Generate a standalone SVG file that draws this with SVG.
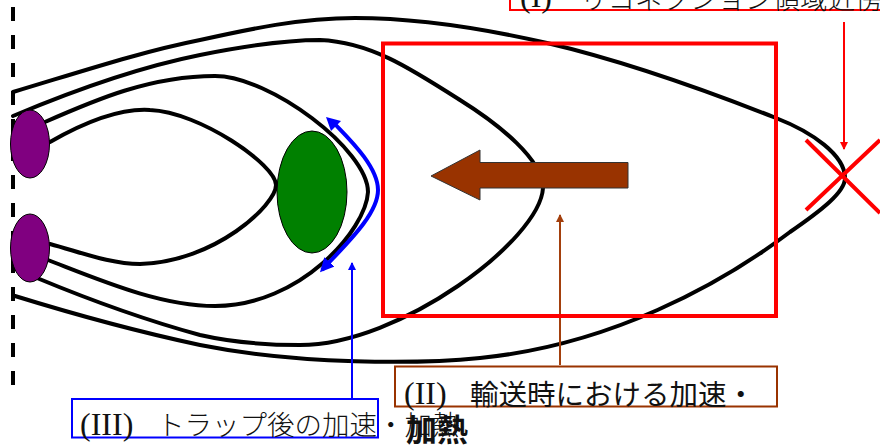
<svg xmlns="http://www.w3.org/2000/svg" width="880" height="445" viewBox="0 0 880 445">
<style>
.f{fill:none;stroke:#000;stroke-width:4;stroke-linecap:round}
.l{font-family:"Liberation Serif",serif;font-size:32px;fill:#111}
.j{font-family:"Noto Sans CJK JP",sans-serif;font-size:27.5px;font-weight:300;fill:#111}
</style>
<defs>
<marker id="mr" markerWidth="8" markerHeight="8" refX="7" refY="4" orient="auto" markerUnits="userSpaceOnUse" viewBox="0 0 8 8"><path d="M0 0L8 4L0 8z" fill="#f00"/></marker>
<marker id="mbr" markerWidth="8" markerHeight="8" refX="7" refY="4" orient="auto" markerUnits="userSpaceOnUse" viewBox="0 0 8 8"><path d="M0 0L8 4L0 8z" fill="#a33f0c"/></marker>
<marker id="mbl" markerWidth="8" markerHeight="8" refX="7" refY="4" orient="auto" markerUnits="userSpaceOnUse" viewBox="0 0 8 8"><path d="M0 0L8 4L0 8z" fill="#00f"/></marker>
<marker id="mb2" markerWidth="14" markerHeight="14" refX="11" refY="7" orient="auto" markerUnits="userSpaceOnUse" viewBox="0 0 14 14"><path d="M0 0L14 7L0 14z" fill="#00f"/></marker>
</defs>
<g id="field-lines">
<path class="f" d="M13 92C80 72 140 52 200 40C250 29 300 18 355 18C420 18 490 30 547 43C620 60 700 88 776 118C812 132 845 155 845 178C845 192 822 210 790 232C720 285 610 345 480 358C420 364 300 365 200 345C130 330 70 313 15 296"/>
<path class="f" d="M13 116C70 92 135 68 200 55C250 45 285 40 320 40C370 42 410 68 460 100C500 125 543 160 543 188C540 240 400 345 300 345C265 345 235 343 200 335C145 320 90 300 37 278"/>
<path class="f" d="M45 122C95 100 150 76 215 76C270 76 368 150 368 192C366 230 300 306 215 306C160 306 100 280 48 260"/>
<path class="f" d="M50 142C85 122 120 108 150 110C200 112 276 165 276 185C276 205 215 262 140 264C110 264 80 252 50 244"/>
<path d="M13 385V0" fill="none" stroke="#000" stroke-width="4" stroke-dasharray="14 14"/>
</g>
<g id="connectors" fill="none">
<path d="M844 22V149" stroke="#f00" stroke-width="2" marker-end="url(#mr)"/>
<path d="M560 365V215" stroke="#a33f0c" stroke-width="2" marker-end="url(#mbr)"/>
<path d="M352 398V263" stroke="#00f" stroke-width="2" marker-end="url(#mbl)"/>
<path d="M333 122C345 135 378 165 378 190C378 215 345 245 322 270" stroke="#00f" stroke-width="4" marker-end="url(#mb2)"/>
<path d="M326 117L341 121L331 131z" fill="#00f"/>
</g>
<g id="foot-upper"><ellipse cx="30" cy="144" rx="19.500" ry="34" fill="#800080" stroke="#000"/></g>
<g id="foot-lower"><ellipse cx="30" cy="248" rx="19.500" ry="34" fill="#800080" stroke="#000"/></g>
<g id="plasmoid"><ellipse cx="312" cy="192" rx="35" ry="61" fill="#008000" stroke="#000"/></g>
<g id="transport-arrow"><path d="M431 176L480 150V162.500H628V188H480V200z" fill="#993300" stroke="#333" stroke-width="1"/></g>
<g id="transport-region"><rect x="383" y="43.500" width="393" height="272.500" fill="none" stroke="#f00" stroke-width="4"/></g>
<g id="x-point"><path d="M806 140L880 213M806 210L880 140" fill="none" stroke="#f00" stroke-width="4"/></g>
<g id="label-i">
<rect x="510" y="-20" width="380" height="30" fill="none" stroke="#f00" stroke-width="2"/>
<text class="l" x="520" y="7">(I)</text>
<text class="j" x="580" y="9">リコネクション領域近傍</text>
</g>
<g id="label-ii">
<rect x="395" y="366.500" width="382" height="40" fill="none" stroke="#993300" stroke-width="2"/>
<text class="l" x="404" y="404">(II)</text>
<text class="j" x="470" y="405" style="font-size:28.500px;font-weight:400">輸送時における加速・</text>
<text class="j" x="406" y="441" style="font-size:31px;font-weight:700">加熱</text>
</g>
<g id="label-iii">
<rect x="72" y="399" width="306" height="38.500" fill="none" stroke="#00f" stroke-width="2"/>
<text class="l" x="80" y="435">(III)</text>
<text class="j" x="157" y="435">トラップ後の加速・加熱</text>
</g>
</svg>
